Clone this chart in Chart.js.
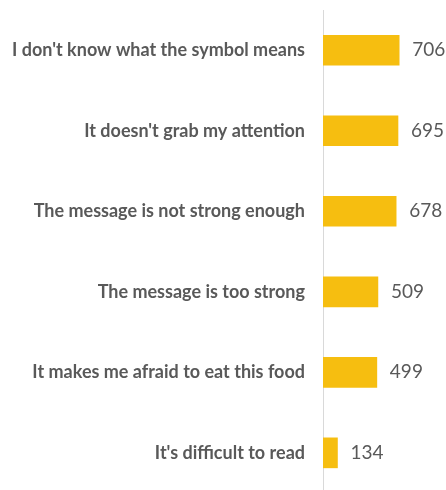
<!DOCTYPE html>
<html>
<head>
<meta charset="utf-8">
<script src="https://cdn.jsdelivr.net/npm/chart.js@4/dist/chart.umd.min.js"></script>
<style>
  html, body { margin: 0; padding: 0; background: #fff; overflow: hidden; }
  #wrap { width: 446px; height: 494px; position: relative; }
</style>
</head>
<body>
<div id="wrap"><canvas id="c"></canvas></div>
<script>
// Reasons given, and how many respondents chose each one
const reasons = [
  "I don't know what the symbol means",
  "It doesn't grab my attention",
  "The message is not strong enough",
  "The message is too strong",
  "It makes me afraid to eat this food",
  "It's difficult to read"
];
const counts = [706, 695, 678, 509, 499, 134];

const textColor = '#595959';
const barColor = '#F6BE10';

// Writes each bar's count just past its end
const valueLabels = {
  id: 'valueLabels',
  afterDatasetsDraw(chart) {
    const ctx = chart.ctx;
    const meta = chart.getDatasetMeta(0);
    ctx.save();
    ctx.font = '19px Lato';
    ctx.fillStyle = textColor;
    ctx.textAlign = 'left';
    ctx.textBaseline = 'middle';
    meta.data.forEach((bar, i) => {
      ctx.fillText(String(counts[i]), bar.x + 13, bar.y);
    });
    ctx.restore();
  }
};

new Chart(document.getElementById('c'), {
  type: 'bar',
  data: {
    labels: reasons,
    datasets: [{
      data: counts,
      backgroundColor: barColor,
      borderWidth: 0,
      barThickness: 30
    }]
  },
  options: {
    indexAxis: 'y',
    responsive: true,
    maintainAspectRatio: false,
    animation: false,
    layout: { padding: { top: 10, right: 0, bottom: 0, left: 0 } },
    plugins: {
      legend: { display: false },
      tooltip: { enabled: false }
    },
    scales: {
      x: {
        display: false,
        min: 0,
        max: 1140
      },
      y: {
        afterFit(scale) { scale.width = 323; },
        grid: {
          display: true,
          drawOnChartArea: false,
          drawTicks: true,
          tickLength: 18,
          tickColor: 'rgba(0,0,0,0)'
        },
        border: { display: true, color: '#D9D9D9', width: 1 },
        ticks: {
          color: textColor,
          padding: 0,
          font: { family: 'Lato', size: 18, weight: 'bold', lineHeight: 0.1 }
        }
      }
    }
  },
  plugins: [valueLabels]
});
</script>
</body>
</html>
